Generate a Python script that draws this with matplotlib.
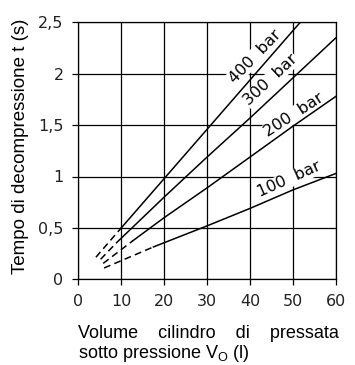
import matplotlib
matplotlib.use('Agg')
import matplotlib.pyplot as plt

plt.rcParams['font.family'] = ['Liberation Sans', 'DejaVu Sans']
plt.rcParams['mathtext.fontset'] = 'custom'
plt.rcParams['mathtext.rm'] = 'Liberation Sans'

# valori: volume V0 (l) -> tempo di decompressione t (s)
labels = ['100  bar', '200  bar', '300  bar', '400  bar']

# tratto tratteggiato (estrapolazione) per ogni pressione
v_dash = [[6.0, 17.5], [5.8, 12.7], [5.2, 9.0], [4.1, 10.0]]
t_dash = [[0.11, 0.315], [0.155, 0.375], [0.195, 0.36], [0.215, 0.50]]

# tratto continuo
v_solid = [[17.5, 30, 40, 50, 60],
           [12.7, 20, 30, 40, 50, 60],
           [9.0, 20, 30, 40, 50, 60],
           [10, 20, 30, 40, 50, 51.7]]
t_solid = [[0.315, 0.52, 0.69, 0.87, 1.03],
           [0.375, 0.60, 0.89, 1.19, 1.49, 1.78],
           [0.36, 0.80, 1.19, 1.57, 1.96, 2.35],
           [0.50, 0.98, 1.46, 1.94, 2.42, 2.50]]

x_ticks = [0, 10, 20, 30, 40, 50, 60]
y_ticks = [0, 0.5, 1, 1.5, 2, 2.5]
y_ticklabels = ['0', '0,5', '1', '1,5', '2', '2,5']

# posizione e rotazione delle scritte sulle curve
label_pos = [(49.1, 0.97), (50.2, 1.60), (44.8, 1.94), (41.1, 2.165)]
label_rot = [24, 33, 43, 46]

fig = plt.figure(figsize=(3.55, 3.65), dpi=100)
ax = fig.add_axes([78.3 / 355, 85.7 / 365, 257.7 / 355, 257 / 365])

for i in range(len(labels)):
    ax.plot(v_dash[i], t_dash[i], color='black', lw=1.1,
            ls=(0, (4.5, 2.8)), zorder=3)
    ax.plot(v_solid[i], t_solid[i], color='black', lw=1.1, zorder=3)
    ax.text(label_pos[i][0], label_pos[i][1], labels[i], rotation=label_rot[i],
            ha='center', va='center', fontsize=11.5, family='DejaVu Sans',
            rotation_mode='anchor', zorder=2,
            bbox=dict(facecolor='white', edgecolor='none', pad=0.5))

ax.set_xlim(0, 60)
ax.set_ylim(0, 2.5)
ax.set_xticks(x_ticks)
ax.set_yticks(y_ticks)
ax.set_yticklabels(y_ticklabels)
ax.grid(True, color='black', lw=0.9, zorder=1)
ax.set_axisbelow(True)
for s in ax.spines.values():
    s.set_linewidth(0.9)
ax.tick_params(direction='out', length=4.6, width=0.9, pad=6,
               labelsize=11.5, labelcolor='#222222')
for t in ax.get_xticklabels() + ax.get_yticklabels():
    t.set_family('DejaVu Sans')

fig.text(21 / 355, 1 - 146 / 365, 'Tempo di decompressione t (s)',
         rotation=90, ha='center', va='center', fontsize=13.5)
fig.text(78.3 / 355, 1 - 338 / 365, 'Volume    cilindro    di    pressata',
         ha='left', va='baseline', fontsize=13)
fig.text(78.3 / 355, 1 - 358 / 365, r'sotto pressione V$_\mathrm{O}$ (l)',
         ha='left', va='baseline', fontsize=13)

fig.savefig('out.png', dpi=100)
